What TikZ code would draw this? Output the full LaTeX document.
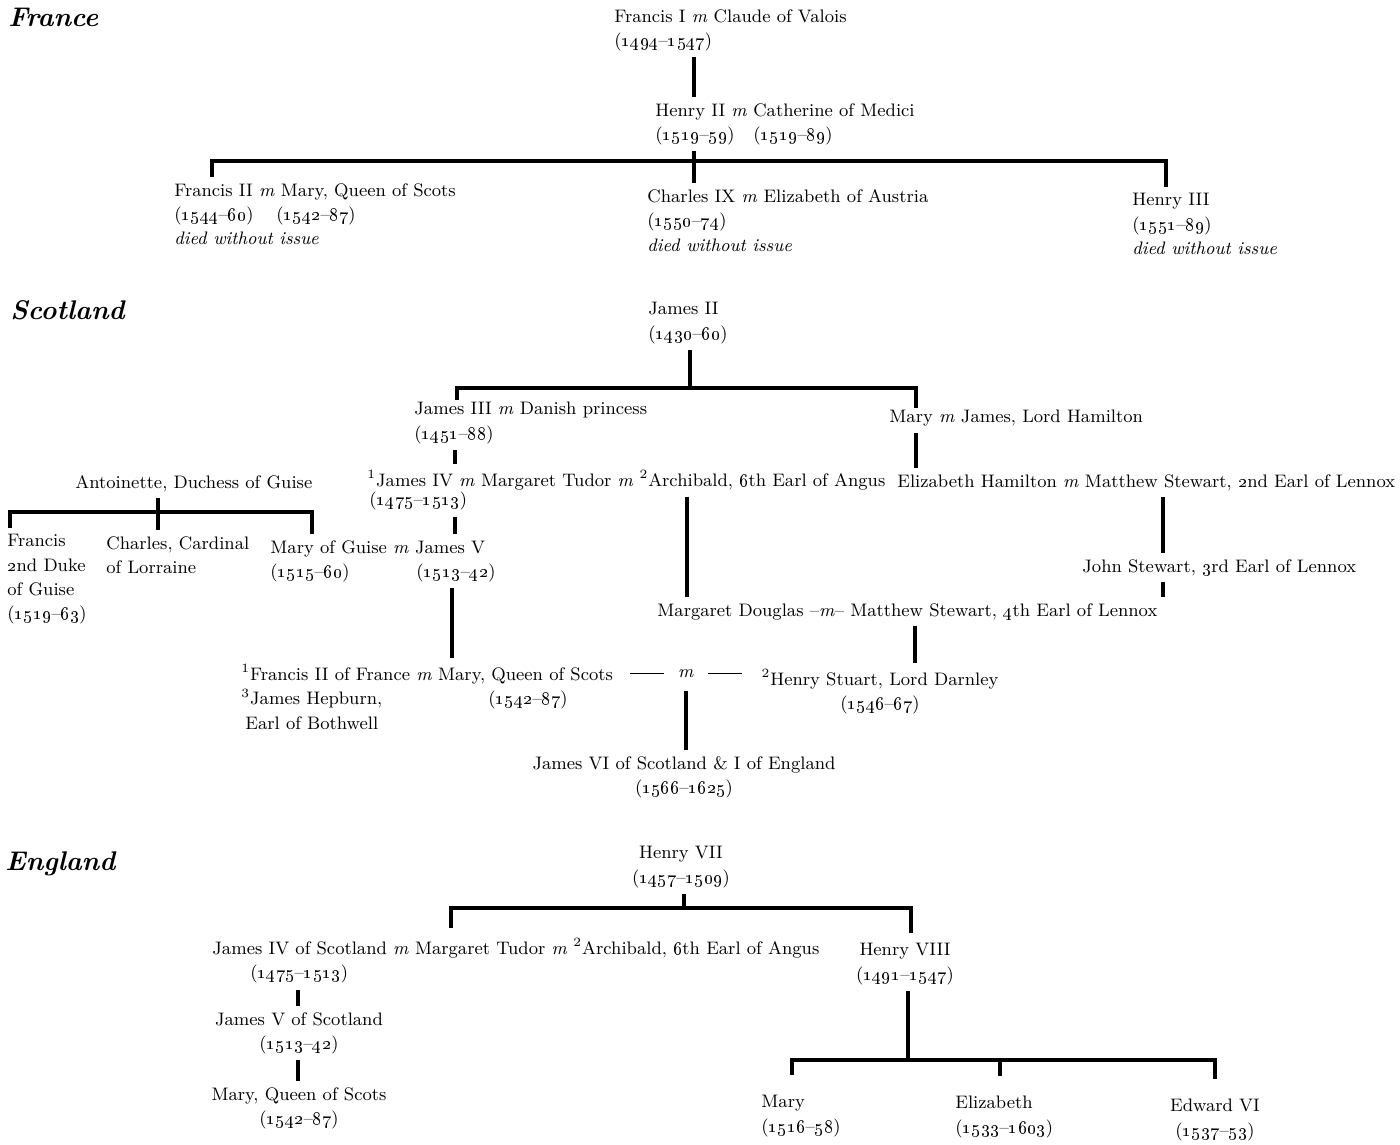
\documentclass[tikz,border=0pt]{standalone}
\usepackage{tikz}
\usetikzlibrary{calc}

\newcommand\folk{\fontsize{9.05}{12.2}\selectfont}
\newcommand\realm{\fontsize{13.5}{17}\selectfont\bfseries\itshape}
\newcommand\wed{\textit{m}}
\newcommand\osn[1]{\oldstylenums{#1}}
\newcommand\life[2]{(\osn{#1}--\osn{#2})}

\begin{document}
\begin{tikzpicture}[x=0.5pt,y=-0.5pt,
    every node/.style={inner sep=0pt,font=\folk},
    kin/.style={line width=2pt},
    gap/.style={shorten <=3pt,shorten >=3pt},
    realm/.style={font=\realm,anchor=base west},
    lefty/.style={align=left,anchor=north west},
    middy/.style={align=center,anchor=north}]
    \useasboundingbox (0,0) rectangle (1400,1144);

    % France
    \node[realm] (fr) at (8,27) {France};
    \node[lefty] (frI) at (614,9) {Francis I \wed\ Claude of Valois\\\life{1494}{1547}};
    \node[lefty] (henII) at (655,103) {Henry II \wed\ Catherine of Medici\\\makebox[49pt][l]{\life{1519}{59}}\life{1519}{89}};
    \node[lefty] (frII) at (174,183) {Francis II \wed\ Mary, Queen of Scots\\\makebox[51pt][l]{\life{1544}{60}}\life{1542}{87}\\\textit{died without issue}};
    \node[lefty] (chIX) at (647,189) {Charles IX \wed\ Elizabeth of Austria\\\life{1550}{74}\\\textit{died without issue}};
    \node[lefty] (henIII) at (1132,193) {Henry III\\\life{1551}{89}\\\textit{died without issue}};
    \coordinate (frBar) at (694,161);

    \draw[kin,gap] (694,0 |- frI.south) -- (694,0 |- henII.north);
    \draw[kin,gap] (694,0 |- henII.south) -- (694,0 |- chIX.north);
    \draw[kin,gap] (212,0 |- frII.north) |- (frBar) -| (1166,0 |- henIII.north);

    % Scotland
    \node[realm] (sc) at (10,320) {Scotland};
    \node[lefty] (jII) at (648,302) {James II\\\life{1430}{60}};
    \coordinate (jBar) at (690,388);
    \node[lefty] (jIII) at (414,402) {James III \wed\ Danish princess\\\life{1451}{88}};
    \node[lefty] (maryH) at (889,410) {Mary \wed\ James, Lord Hamilton};
    \node[lefty] (jIV) at (367,470) {\textsuperscript{1}James IV \wed\ Margaret Tudor \wed\ \textsuperscript{2}Archibald, \osn{6}th Earl of Angus};
    \node[lefty] (jIVlife) at (369,492) {\life{1475}{1513}};
    \node[lefty] (eHam) at (897,474) {Elizabeth Hamilton \wed\ Matthew Stewart, \osn{2}nd Earl of Lennox};
    \node[lefty] (ant) at (75,475) {Antoinette, Duchess of Guise};
    \coordinate (antBar) at (158,512);
    \node[lefty] (fGuise) at (7,534) {Francis\\\osn{2}nd Duke\\of Guise\\\life{1519}{63}};
    \node[lefty] (cLor) at (106,536) {Charles, Cardinal\\of Lorraine};
    \node[lefty] (jV) at (270,540) {Mary of Guise \wed\ James V\\\makebox[73pt][l]{\life{1515}{60}}\life{1513}{42}};
    \node[lefty] (jStew) at (1082,559) {John Stewart, \osn{3}rd Earl of Lennox};
    \node[lefty] (mDoug) at (657,603) {Margaret Douglas --\wed-- Matthew Stewart, \osn{4}th Earl of Lennox};
    \node[lefty] (mqs) at (241,664) {\textsuperscript{1}Francis II of France \wed\ Mary, Queen of Scots\\\makebox[123.5pt][l]{\textsuperscript{3}James Hepburn,}\life{1542}{87}\\\hspace*{2pt}Earl of Bothwell};
    \node (wedD) at (686,674) {\rule[0.45ex]{17pt}{0.5pt}\hspace{7pt}\wed\hspace{7pt}\rule[0.45ex]{17pt}{0.5pt}};
    \node[middy] (darn) at (880,669) {\textsuperscript{2}Henry Stuart, Lord Darnley\\\life{1546}{67}};
    \node[middy] (jVI) at (684,756) {James VI of Scotland \& I of England\\\life{1566}{1625}};

    \draw[kin,shorten <=3pt] (690,0 |- jII.south) -- (jBar);
    \draw[kin,shorten <=1pt,shorten >=1pt] (457,0 |- jIII.north) |- (jBar) -| (916,0 |- maryH.north);
    \draw[kin,gap] (455,0 |- jIII.south) -- (455,0 |- jIV.north);
    \draw[kin,gap] (455,0 |- jIVlife.south) -- (455,0 |- jV.north);
    \draw[kin,gap] (687,0 |- jIV.south) -- (687,0 |- mDoug.north);
    \draw[kin,gap] (916,0 |- maryH.south) -- (916,0 |- eHam.north);
    \draw[kin,gap] (1163,0 |- eHam.south) -- (1163,0 |- jStew.north);
    \draw[kin,gap] (1163,0 |- jStew.south) -- (1163,0 |- mDoug.north);
    \draw[kin,gap] (915,0 |- mDoug.south) -- (915,0 |- darn.north);
    \draw[kin,gap] (452,0 |- jV.south) -- (452,0 |- mqs.north);
    \draw[kin,gap,shorten <=6pt] (686,0 |- wedD.south) -- (686,0 |- jVI.north);
    \draw[kin,gap] (158,0 |- ant.south) -- (158,0 |- cLor.north);
    \draw[kin,gap] (10,0 |- fGuise.north) |- (antBar) -| (312,0 |- jV.north);

    % England
    \node[realm] (en) at (5,870) {England};
    \node[middy] (hVII) at (681,846) {Henry VII\\\life{1457}{1509}};
    \coordinate (hBar) at (684,908);
    \node[lefty] (jIVe) at (212,938) {James IV of Scotland \wed\ Margaret Tudor \wed\ \textsuperscript{2}Archibald, \osn{6}th Earl of Angus\\\hspace*{19pt}\life{1475}{1513}};
    \node[middy] (hVIII) at (905,943) {Henry VIII\\\life{1491}{1547}};
    \node[middy] (jVe) at (299,1012) {James V of Scotland\\\life{1513}{42}};
    \node[middy] (mqsE) at (299,1087) {Mary, Queen of Scots\\\life{1542}{87}};
    \coordinate (h8Bar) at (908,1060);
    \node[lefty] (maryT) at (761,1095) {Mary\\\life{1516}{58}};
    \node[lefty] (eliz) at (955,1096) {Elizabeth\\\life{1533}{1603}};
    \node[middy] (edw) at (1215,1099) {Edward VI\\\life{1537}{53}};

    \draw[kin,shorten <=3pt] (684,0 |- hVII.south) -- (hBar);
    \draw[kin,shorten <=5pt,shorten >=5pt] (451,0 |- jIVe.north) |- (hBar) -| (911,0 |- hVIII.north);
    \draw[kin,gap] (298,0 |- jIVe.south) -- (298,0 |- jVe.north);
    \draw[kin,gap] (298,0 |- jVe.south) -- (298,0 |- mqsE.north);
    \draw[kin,shorten <=3pt] (908,0 |- hVIII.south) -- (h8Bar);
    \draw[kin,shorten <=10pt,shorten >=10pt] (792,0 |- maryT.north) |- (h8Bar) -| (1215,0 |- edw.north);
    \draw[kin,shorten <=10pt] (1000,0 |- eliz.north) -- (1000,0 |- h8Bar);
\end{tikzpicture}
\end{document}
